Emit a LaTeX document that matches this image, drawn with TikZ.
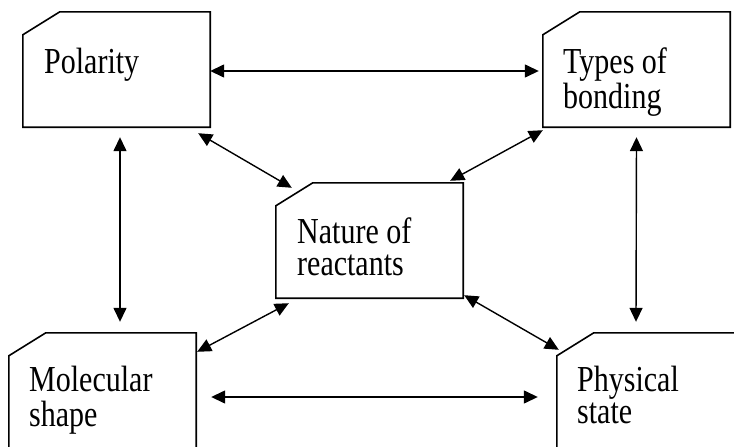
\documentclass[tikz,border=0pt]{standalone}
\usepackage{fontspec}
\setmainfont{Liberation Serif}
\usetikzlibrary{arrows.meta}

% Outline of a card with its top-left corner cut off
\newcommand\cardframe[1]{%
  \draw[cardline] (#1.south west) -- ([yshift=-23pt]#1.north west)
    -- ([xshift=37pt]#1.north west) -- (#1.north east)
    -- (#1.south east) -- cycle;}

% Left-aligned lines whose baseline is that of the first line
\newcommand\cardlines[1]{\begin{tabular}[t]{@{}l@{}}#1\end{tabular}}

\tikzset{
  card/.style={draw=none, minimum width=187pt, minimum height=115pt, inner sep=0pt},
  cardline/.style={line width=1.6pt, line join=miter},
  cardtext/.style={anchor=base west, inner sep=0pt,
    font=\fontsize{30}{26.5}\selectfont, yscale=1.22, transform shape},
  link/.style={line width=1.4pt, {Triangle[length=14pt,width=13pt]}-{Triangle[length=14pt,width=13pt]}}
}

\begin{document}
\begin{tikzpicture}[x=1pt, y=-1pt]
  \clip (0,0) rectangle (734,447);
  \fill[white] (0,0) rectangle (734,447);

  % the five cards
  \node[card] (pol) at (116.5,69.5) {};
  \node[card] (typ) at (636.5,69.5) {};
  \node[card] (nat) at (369.5,240.5) {};
  \node[card] (mol) at (102.5,390.5) {};
  \node[card] (phy) at (650.5,390.5) {};
  \foreach \c in {pol,typ,nat,mol,phy} {\cardframe{\c}}

  % labels
  \node[cardtext] (polt) at (44,73)  {\cardlines{Polarity}};
  \node[cardtext] (typt) at (563,73) {\cardlines{Types of\\bonding}};
  \node[cardtext] (natt) at (297,243) {\cardlines{Nature of\\reactants}};
  \node[cardtext] (molt) at (29,391) {\cardlines{Molecular\\shape}};
  \node[cardtext] (phyt) at (577,391) {\cardlines{Physical\\state}};

  % two-way links
  \draw[link] ([yshift=-1.5pt]pol.east) -- ([xshift=-4pt,yshift=-1.5pt]typ.west);
  \draw[link] ([xshift=3.5pt,yshift=-10pt]pol.south) -- ([xshift=17.5pt,yshift=11pt]mol.north);
  \draw[link] ([yshift=-10pt]typ.south) -- ([xshift=-14.5pt,yshift=11pt]phy.north);
  \draw[link] ([xshift=15pt,yshift=-6.5pt]mol.east) -- ([xshift=-19pt,yshift=-6.5pt]phy.west);
  \draw[link] ([xshift=-12pt,yshift=-6pt]pol.south east) -- ([xshift=16pt,yshift=-5pt]nat.north west);
  \draw[link] ([yshift=-3pt]typ.south west) -- ([xshift=-13pt,yshift=2pt]nat.north east);
  \draw[link] ([xshift=13pt,yshift=-5pt]nat.south west) -- ([xshift=1pt,yshift=-19pt]mol.north east);
  \draw[link] ([xshift=1pt,yshift=3pt]nat.south east) -- ([xshift=2pt,yshift=-17pt]phy.north west);
\end{tikzpicture}
\end{document}
